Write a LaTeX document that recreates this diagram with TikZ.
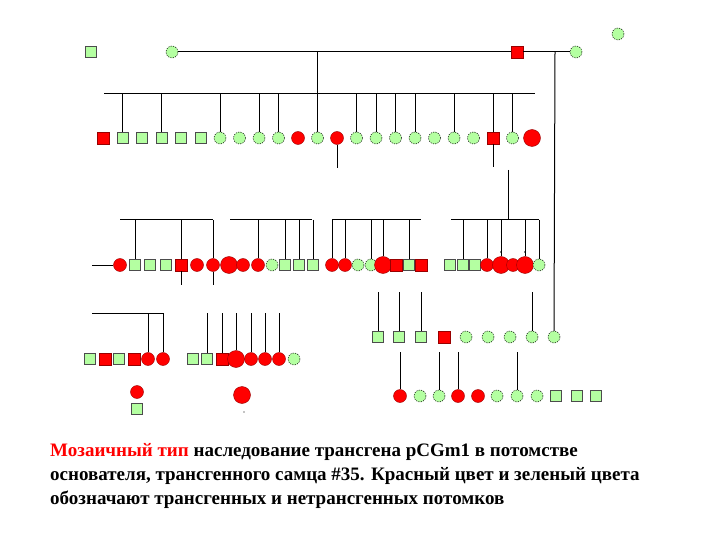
\documentclass[tikz,border=0pt]{standalone}
\usepackage{fontspec}
\setmainfont{Liberation Serif}
\begin{document}
\begin{tikzpicture}[x=1pt,y=-1pt,
  gs/.style={draw=black!70,fill=green!30!white!90!lime,minimum size=11pt,inner sep=0pt,line width=0.4pt},
  rs/.style={draw=red!60!black,fill=red,minimum size=12pt,inner sep=0pt,line width=0.4pt},
  gc/.style={circle,draw=black,dashed,dash pattern=on 1.2pt off 1.2pt,fill=green!30!white!90!lime,minimum size=12pt,inner sep=0pt,line width=0.5pt},
  rc/.style={circle,draw=red!60!black,fill=red,minimum size=13pt,inner sep=0pt,line width=0.4pt},
  brc/.style={circle,draw=red!60!black,fill=red,minimum size=17pt,inner sep=0pt,line width=0.4pt},
  ln/.style={line width=1pt,black},
  txt/.style={anchor=west,inner sep=0pt,font=\fontsize{19}{22}\selectfont\bfseries}]
\useasboundingbox (0,0) rectangle (720,540);
% generation 1
\node[gs] (g1a) at (91,52) {};
\node[gc] (g1b) at (172,52) {};
\node[rs] (g1c) at (517,52) {};
\node[gc] (g1d) at (576,52) {};
\node[gc] (g1e) at (618,34) {};
\draw[ln] (g1b) -- (g1c) -- (g1d);
\coordinate (m1) at (317,52);
\coordinate (m2) at (555,52);
% generation 2
\foreach \s [count=\i from 0] in {rs,gs,gs,gs,gs,gs,gc,gc,gc,gc,rc,gc,rc,gc,gc,gc,gc,gc,gc,gc,rs,gc,brc}{
  \node[\s] (b\i) at ({103+19.5*\i},138) {};
}
\coordinate (bl) at (104,94);
\coordinate (br) at (535,94);
\draw[ln] (bl) -- (br);
\draw[ln] (m1) -- (317,94);
\foreach \i in {1,3,6,8,9,11,13,14,15,16,18,20,21}{
  \draw[ln] (b\i.north |- bl) -- (b\i.north);
}
\draw[ln] (b12.south) -- ++(0,23);
\draw[ln] (b20.south) -- ++(0,23);
% generation 3
\foreach \s/\x [count=\i] in {rc/120,gs/135,gs/150,gs/166,rs/181,rc/197,rc/213,
   brc/229,rc/243,rc/258,gc/272,gs/285,gs/299,gs/313,
   rc/332,rc/345,gc/358,gc/371,brc/383,rs/396,gs/409,rs/421,
   gs/450,gs/463,gs/475,rc/487,brc/501,rc/513,brc/525,gc/539}{
  \node[\s] (c\i) at (\x,265) {};
}
\coordinate (s0) at (92,265);
\draw[ln] (s0) -- (c1);
\draw[ln] (120,220) -- (213,220);
\draw[ln] (230,220) -- (312,220);
\draw[ln] (332,220) -- (421,220);
\draw[ln] (451,220) -- (539,220);
\draw[ln] (508,170) -- (508,220);
\foreach \i in {2,5,7,10,12,13,14,15,16,18,19,21,24,26,27,29,30}{
  \draw[ln] (c\i.center |- 0,220) -- (c\i.north);
}
\fill (501,252) circle (0.9);
\fill (525,252) circle (0.9);
\draw[ln] (c5.south) -- (181,285);
\draw[ln] (c7.south) -- (213,285);
% long line
\foreach \s/\x [count=\i] in {gs/378,gs/399,gs/421,rs/444,gc/466,gc/488,gc/510,gc/532,gc/554}{
  \node[\s] (d\i) at (\x,337) {};
}
\draw[ln] (m2) -- (d9.north);
\foreach \i in {1,2,3,8}{
  \draw[ln] (d\i.center |- 0,292) -- (d\i.north);
}
% generation 4 left
\foreach \s/\x [count=\i] in {gs/90,rs/105,gs/119,rs/134,rc/148,rc/163,
   gs/193,gs/207,rs/222,brc/236,rc/251,rc/265,rc/279,gc/294}{
  \node[\s] (e\i) at (\x,359) {};
}
\draw[ln] (92,313) -- (163,313);
\foreach \i in {5,6,8,9,10,11,12,13}{
  \draw[ln] (e\i.center |- 0,313) -- (e\i.north);
}
\node[rc] (f1) at (137,392) {};
\node[gs] (f2) at (137,409) {};
\node[brc] (f3) at (242,395) {};
\fill (244,412) circle (0.7);
% generation 5 right
\foreach \s/\x [count=\i] in {rc/400,gc/420,gc/439,rc/458,rc/478,gc/497,gc/517,gc/537,gs/556,gs/577,gs/596}{
  \node[\s] (h\i) at (\x,396) {};
}
\foreach \i in {1,3,4,7}{
  \draw[ln] (h\i.center |- 0,352) -- (h\i.north);
}
% caption
\node[txt] (t1) at (50,452) {\textcolor{red}{Мозаичный тип} наследование трансгена pCGm1 в потомстве};
\node[txt] (t2) at (50,476) {основателя, трансгенного самца \#35. Красный цвет и зеленый  цвета};
\node[txt] (t3) at (50,500) {обозначают трансгенных и нетрансгенных потомков};
\end{tikzpicture}
\end{document}
